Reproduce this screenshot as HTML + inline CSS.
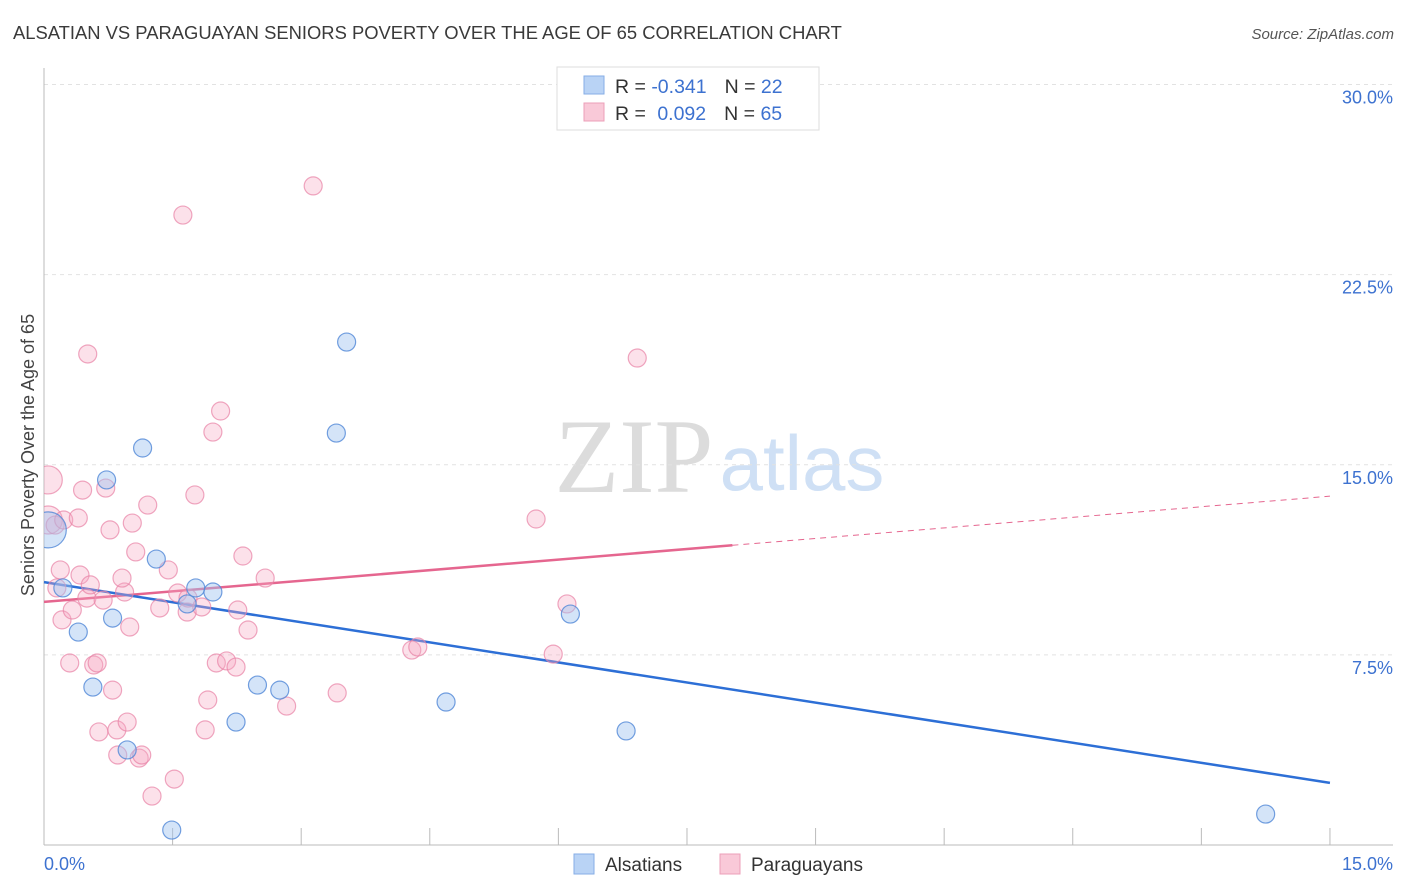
<!DOCTYPE html>
<html><head><meta charset="utf-8"><style>
body{margin:0;background:#fff;font-family:"Liberation Sans",sans-serif}
</style></head><body>
<svg id="chart" width="1406" height="892" xmlns="http://www.w3.org/2000/svg" style="display:block">
<defs><clipPath id="plotclip"><rect x="44" y="60" width="1360" height="785"/></clipPath></defs>
<text x="13" y="39" font-size="18.4" fill="#3a3a3a" font-family="Liberation Sans, sans-serif">ALSATIAN VS PARAGUAYAN SENIORS POVERTY OVER THE AGE OF 65 CORRELATION CHART</text>
<text x="1394" y="39" font-size="15" fill="#555" font-style="italic" text-anchor="end">Source: ZipAtlas.com</text>
<g>
<text x="634" y="492" font-size="106" fill="#dcdcdc" font-family="Liberation Serif, serif" text-anchor="middle">ZIP</text>
<text x="802" y="490" font-size="78" fill="#cfe0f5" text-anchor="middle">atlas</text>
</g>
<g id="grid"></g><g id="axes"></g><g id="trends"></g><g id="points" clip-path="url(#plotclip)"></g>
<text transform="translate(34,455) rotate(-90)" font-size="18" fill="#444" text-anchor="middle">Seniors Poverty Over the Age of 65</text>
<g>
<rect x="557" y="67" width="262" height="63" fill="#fff" stroke="#ddd"/>
<rect x="584" y="76" width="20" height="18" fill="#b9d3f5" stroke="#86aee6"/>
<rect x="584" y="103" width="20" height="18" fill="#f9c9d8" stroke="#ec9fb8"/>
<text x="615" y="93" font-size="19.5" fill="#333">R = <tspan fill="#3d72d0">-0.341</tspan><tspan dx="18">N = </tspan><tspan fill="#3d72d0">22</tspan></text>
<text x="615" y="120" font-size="19.5" fill="#333">R = <tspan fill="#3d72d0" dx="6">0.092</tspan><tspan dx="18">N = </tspan><tspan fill="#3d72d0">65</tspan></text>
</g>
<g>
<rect x="574" y="854" width="20" height="20" fill="#b9d3f5" stroke="#86aee6"/>
<text x="605" y="871" font-size="19" fill="#333">Alsatians</text>
<rect x="720" y="854" width="20" height="20" fill="#f9c9d8" stroke="#ec9fb8"/>
<text x="751" y="871" font-size="19" fill="#333">Paraguayans</text>
</g>
</svg>
<script>
const yTicks=[7.5,15,22.5,30];
const yTickLabels=["7.5%","15.0%","22.5%","30.0%"];
const xTickLabels=["0.0%","15.0%"];
const blueX=[0.05,0.22,0.40,0.57,0.73,0.80,0.97,1.15,1.31,1.49,1.67,1.77,1.97,2.24,2.49,2.75,3.41,3.53,4.69,6.14,6.79,14.25];
const blueY=[12.43,10.14,8.40,6.23,14.40,8.95,3.75,15.66,11.28,0.59,9.51,10.14,9.98,4.85,6.31,6.11,16.25,19.84,5.64,9.11,4.50,1.22];
const pinkX=[0.05,0.05,0.13,0.23,0.40,0.19,0.51,0.15,0.21,0.30,0.33,0.42,0.45,0.50,0.54,0.58,0.62,0.64,0.69,0.72,0.77,0.80,0.85,0.86,0.97,1.00,0.94,0.91,1.03,1.07,1.11,1.14,1.21,1.26,1.35,1.45,1.52,1.56,1.62,1.67,1.68,1.76,1.84,1.88,1.91,1.97,2.01,2.06,2.13,2.24,2.26,2.38,2.32,2.58,2.83,3.14,3.42,4.29,4.36,5.74,5.94,6.10,6.92];
const pinkY=[14.40,12.82,12.62,12.82,12.90,10.85,19.37,10.14,8.88,7.18,9.27,10.65,14.00,9.74,10.26,7.10,7.18,4.46,9.66,14.08,12.43,6.11,4.54,3.55,4.85,8.60,9.98,10.53,12.70,11.56,3.43,3.55,13.41,1.93,9.35,10.85,2.60,9.94,24.85,9.19,9.74,13.81,9.39,4.54,5.72,16.29,7.18,17.12,7.26,7.02,9.27,8.48,11.40,10.53,5.48,26.00,6.00,7.69,7.81,12.86,7.53,9.51,19.21];
const blueTrend=[10.37,2.45];
const pinkTrend=[9.59,13.76];
const pinkSolidEnd=8.03;
const NS="http://www.w3.org/2000/svg";
const xs=v=>44+v*85.73, ys=v=>845-v*25.35;
function mk(t,a,p){const e=document.createElementNS(NS,t);for(const k in a)e.setAttribute(k,a[k]);document.getElementById(p).appendChild(e);return e;}
yTicks.forEach((t,i)=>{
 const g=mk('line',{x1:44,x2:1393,y1:ys(t),y2:ys(t),stroke:'#e2e2e2','stroke-dasharray':'4,4'},'grid');
 
 
 const l=mk('text',{x:1393,y:ys(t)+19,'font-size':18,fill:'#3d72d0','text-anchor':'end'},'grid');
 l.textContent=yTickLabels[i];
 
 
});
let ax=mk('line',{x1:44,x2:44,y1:68,y2:845,stroke:'#bbb'},'axes');


ax=mk('line',{x1:44,x2:1393,y1:845,y2:845,stroke:'#bbb'},'axes');


for(let i=1;i<=10;i++){const t=mk('line',{x1:xs(i*1.5),x2:xs(i*1.5),y1:828,y2:845,stroke:'#bbb'},'axes');
 
 }
[[0,'start',44],[1,'end',1393]].forEach(([i,a,x])=>{const t=mk('text',{x:x,y:870,'font-size':18,fill:'#3d72d0','text-anchor':a},'axes');t.textContent=xTickLabels[i];
 
 });
function pt(x,y,r,f,s){const c=mk('circle',{cx:xs(x),cy:ys(y),r:r,fill:f,stroke:s,'stroke-width':1.2},'points');return c;}
pinkX.forEach((x,i)=>{const c=pt(x,pinkY[i],i<2?14:9,'rgba(246,170,196,0.35)','rgba(232,130,165,0.7)');
 
 });
blueX.forEach((x,i)=>{const c=pt(x,blueY[i],i==0?18:9,'rgba(160,195,240,0.45)','rgba(80,135,215,0.8)');
 
 });
const pAt=x=>pinkTrend[0]+(pinkTrend[1]-pinkTrend[0])*x/15;
let tl=mk('line',{x1:xs(0),y1:ys(pinkTrend[0]),x2:xs(pinkSolidEnd),y2:ys(pAt(pinkSolidEnd)),stroke:'#e5668f','stroke-width':2.5},'trends');


tl=mk('line',{x1:xs(pinkSolidEnd),y1:ys(pAt(pinkSolidEnd)),x2:xs(15),y2:ys(pinkTrend[1]),stroke:'#e5668f','stroke-width':1,'stroke-dasharray':'6,5'},'trends');


tl=mk('line',{x1:xs(0),y1:ys(blueTrend[0]),x2:xs(15),y2:ys(blueTrend[1]),stroke:'#2d6fd6','stroke-width':2.5},'trends');


</script>
</body></html>
